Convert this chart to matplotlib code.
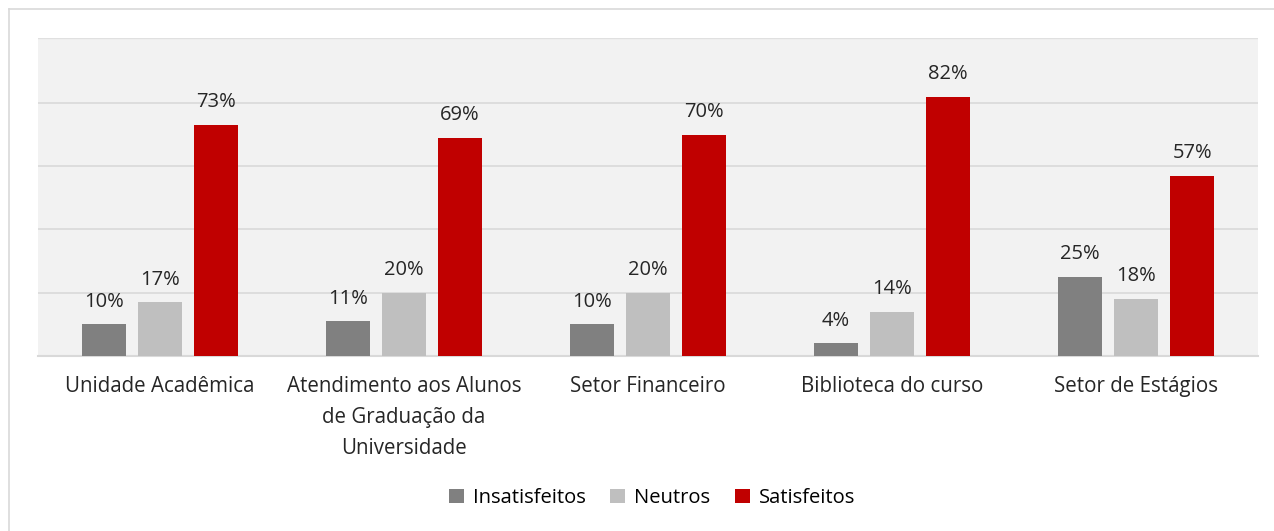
import matplotlib
matplotlib.use("Agg")
import matplotlib.pyplot as plt
import numpy as np
from matplotlib.lines import Line2D

categories = ["Unidade Acadêmica",
              "Atendimento aos Alunos\nde Graduação da\nUniversidade",
              "Setor Financeiro", "Biblioteca do curso", "Setor de Estágios"]
insatisfeitos = [10, 11, 10, 4, 25]
neutros = [17, 20, 20, 14, 18]
satisfeitos = [73, 69, 70, 82, 57]
series_names = ["Insatisfeitos", "Neutros", "Satisfeitos"]
colors = ["#808080", "#bfbfbf", "#c00000"]

plt.rcParams['font.family'] = ['Open Sans', 'DejaVu Sans']

fig = plt.figure(figsize=(12.74, 5.31), dpi=100)
ax = fig.add_axes([38/1274, 1-356/531, 1220/1274, 318/531])
ax.set_facecolor("#f2f2f2")

x = np.arange(len(categories))
w = 0.18
off = 0.23
for i, (vals, name, c) in enumerate(zip([insatisfeitos, neutros, satisfeitos], series_names, colors)):
    bars = ax.bar(x + (i-1)*off, vals, w, color=c, label=name, zorder=3)
    for b, v in zip(bars, vals):
        ax.text(b.get_x()+b.get_width()/2, v + 4, f"{v}%", ha="center", va="bottom",
                fontsize=14.5, color="#262626", zorder=4)

ax.set_xlim(-0.5, len(categories)-0.5)
ax.set_ylim(0, 100.5)
ax.set_yticks([20, 40, 60, 80])
ax.yaxis.grid(True, color="#d9d9d9", linewidth=1.2, zorder=0)
ax.tick_params(axis='y', left=False, labelleft=False)
ax.tick_params(axis='x', bottom=False, pad=11)
ax.set_xticks(x)
ax.set_xticklabels(categories, fontsize=14.8, color="#262626", linespacing=1.62)
for s in ["left", "right", "top"]:
    ax.spines[s].set_visible(False)
ax.spines["bottom"].set_color("#d9d9d9")
ax.spines["bottom"].set_linewidth(1.5)
ax.axhline(100.5, color="#e0e0e0", linewidth=1, zorder=1)

leg = fig.legend(loc="center", bbox_to_anchor=(652/1274, 1-498/531), ncol=3, frameon=False,
                 fontsize=14.5, handlelength=0.75, handleheight=0.75, handletextpad=0.45,
                 columnspacing=1.2)
for t in leg.get_texts():
    t.set_color("#000000")

fig.add_artist(Line2D([9/1274, 9/1274], [0, 1-9/531], transform=fig.transFigure, color="#d9d9d9", linewidth=1.2))
fig.add_artist(Line2D([9/1274, 1], [1-9/531, 1-9/531], transform=fig.transFigure, color="#d9d9d9", linewidth=1.2))

fig.savefig("out.png", dpi=100, facecolor="white")
